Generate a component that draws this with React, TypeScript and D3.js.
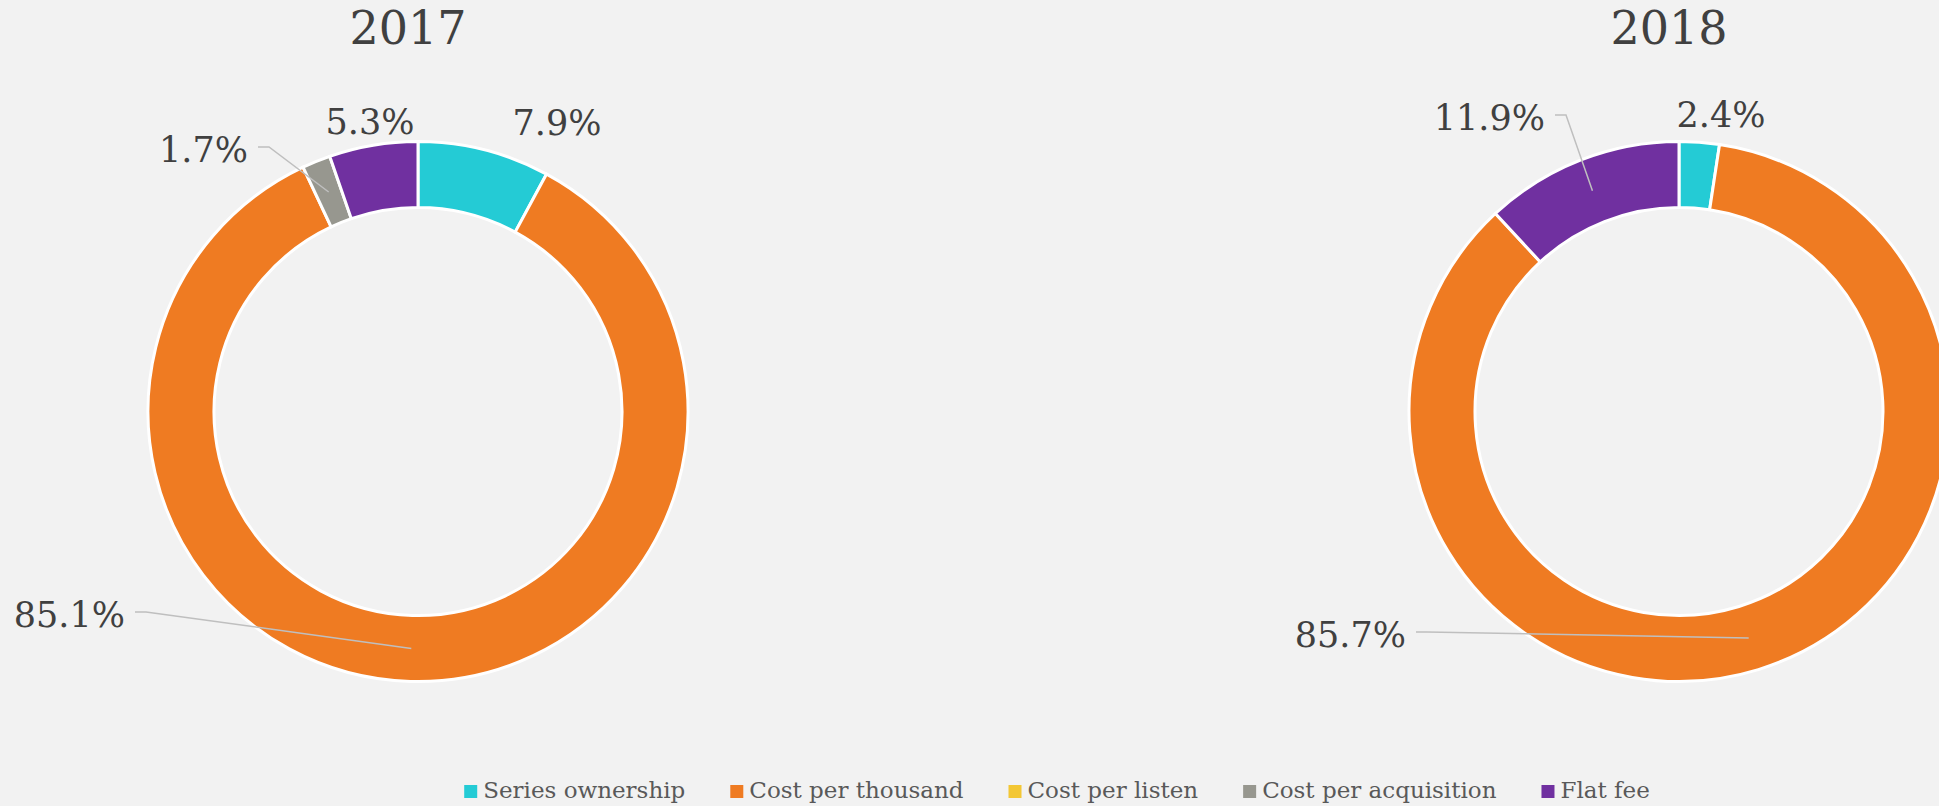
import React, { useMemo } from "react";
import * as d3 from "d3";

// ---- data ----
const categories = [
  "Series ownership",
  "Cost per thousand",
  "Cost per listen",
  "Cost per acquisition",
  "Flat fee",
];
const years = ["2017", "2018"];
const values2017 = [7.9, 85.1, 0, 1.7, 5.3];
const values2018 = [2.4, 85.7, 0, 0, 11.9];
const seriesColors = ["#24CBD5", "#EF7B22", "#F3C734", "#97978F", "#7030A0"];

// ---- layout (annotation placement, relative to each donut centre) ----
const W = 1939;
const H = 806;
const VIRTUAL_W = 2114;
const CENTERS_X = [418, 1679];
const CENTER_Y = 411.5;
const OUTER_R = 270;
const INNER_R = 204;
type LabelPos = { dx: number; dy: number; anchor: "start" | "middle" | "end"; leader: boolean };
const labelLayout: Record<number, LabelPos>[] = [
  {
    0: { dx: 139, dy: -276.5, anchor: "middle", leader: false },
    1: { dx: -293, dy: 215.5, anchor: "end", leader: true },
    3: { dx: -170, dy: -249.5, anchor: "end", leader: true },
    4: { dx: -48, dy: -277.5, anchor: "middle", leader: false },
  },
  {
    0: { dx: 42, dy: -284.5, anchor: "middle", leader: false },
    1: { dx: -273, dy: 235.5, anchor: "end", leader: true },
    4: { dx: -134, dy: -281.5, anchor: "end", leader: true },
  },
];

const FONT = "'DejaVu Serif', Georgia, serif";
const TEXT_COLOR = "#404040";
const LEGEND_FONT_SIZE = 23;

function measure(text: string, font: string): number {
  const c = document.createElement("canvas");
  const ctx = c.getContext("2d");
  if (!ctx) return text.length * 10;
  ctx.font = font;
  return ctx.measureText(text).width;
}

export default function App() {
  const allValues = [values2017, values2018];
  const pie = d3
    .pie<number>()
    .sort(null)
    .value((d) => d)
    .startAngle(0)
    .endAngle(2 * Math.PI);
  const arc = d3
    .arc<d3.PieArcDatum<number>>()
    .innerRadius(INNER_R)
    .outerRadius(OUTER_R);
  const fmt = d3.format(".1f");

  const legendItems = useMemo(() => {
    const sq = 13;
    const gapText = 6;
    const gapItem = 45;
    const font = `${LEGEND_FONT_SIZE}px ${FONT}`;
    const widths = categories.map((c) => measure(c, font));
    const total =
      widths.reduce((a, b) => a + b, 0) +
      categories.length * (sq + gapText) +
      (categories.length - 1) * gapItem;
    let x = VIRTUAL_W / 2 - total / 2;
    return categories.map((c, i) => {
      const item = { x, label: c, color: seriesColors[i] };
      x += sq + gapText + widths[i] + gapItem;
      return item;
    });
  }, []);

  return (
    <div style={{ position: "fixed", left: 0, top: 0, width: W, height: H, overflow: "hidden" }}>
      <svg width={W} height={H} style={{ display: "block", background: "#F2F2F2" }}>
        <rect x={0} y={0} width={W} height={H} fill="#F2F2F2" />
        {allValues.map((vals, ci) => {
          const cx = CENTERS_X[ci];
          const arcs = pie(vals);
          return (
            <g key={years[ci]}>
              <text
                x={cx - 10}
                y={44}
                textAnchor="middle"
                fontFamily={FONT}
                fontSize={46}
                fill={TEXT_COLOR}
              >
                {years[ci]}
              </text>
              <g transform={`translate(${cx},${CENTER_Y})`}>
                {arcs
                  .filter((a) => a.value > 0)
                  .map((a) => (
                    <path
                      key={a.index}
                      d={arc(a) || ""}
                      fill={seriesColors[a.index]}
                      stroke="#FFFFFF"
                      strokeWidth={3}
                      strokeLinejoin="miter"
                    />
                  ))}
                {arcs
                  .filter((a) => a.value > 0 && labelLayout[ci][a.index])
                  .map((a) => {
                    const lp = labelLayout[ci][a.index];
                    const [mx, my] = arc.centroid(a);
                    const label = `${fmt(a.value)}%`;
                    let leader = null;
                    if (lp.leader) {
                      const lx = lp.dx + 10;
                      const ly = lp.dy - 15;
                      leader = (
                        <polyline
                          points={`${lx},${ly} ${lx + 11},${ly} ${mx},${my}`}
                          fill="none"
                          stroke="#BFBFBF"
                          strokeWidth={1.5}
                        />
                      );
                    }
                    return (
                      <g key={`l${a.index}`}>
                        {leader}
                        <text
                          x={lp.dx}
                          y={lp.dy}
                          textAnchor={lp.anchor}
                          fontFamily={FONT}
                          fontSize={35}
                          fill={TEXT_COLOR}
                        >
                          {label}
                        </text>
                      </g>
                    );
                  })}
              </g>
            </g>
          );
        })}
        <g>
          {legendItems.map((it) => (
            <g key={it.label}>
              <rect x={it.x} y={785} width={13} height={13} fill={it.color} />
              <text
                x={it.x + 19}
                y={798}
                fontFamily={FONT}
                fontSize={LEGEND_FONT_SIZE}
                fill="#595959"
              >
                {it.label}
              </text>
            </g>
          ))}
        </g>
      </svg>
    </div>
  );
}
